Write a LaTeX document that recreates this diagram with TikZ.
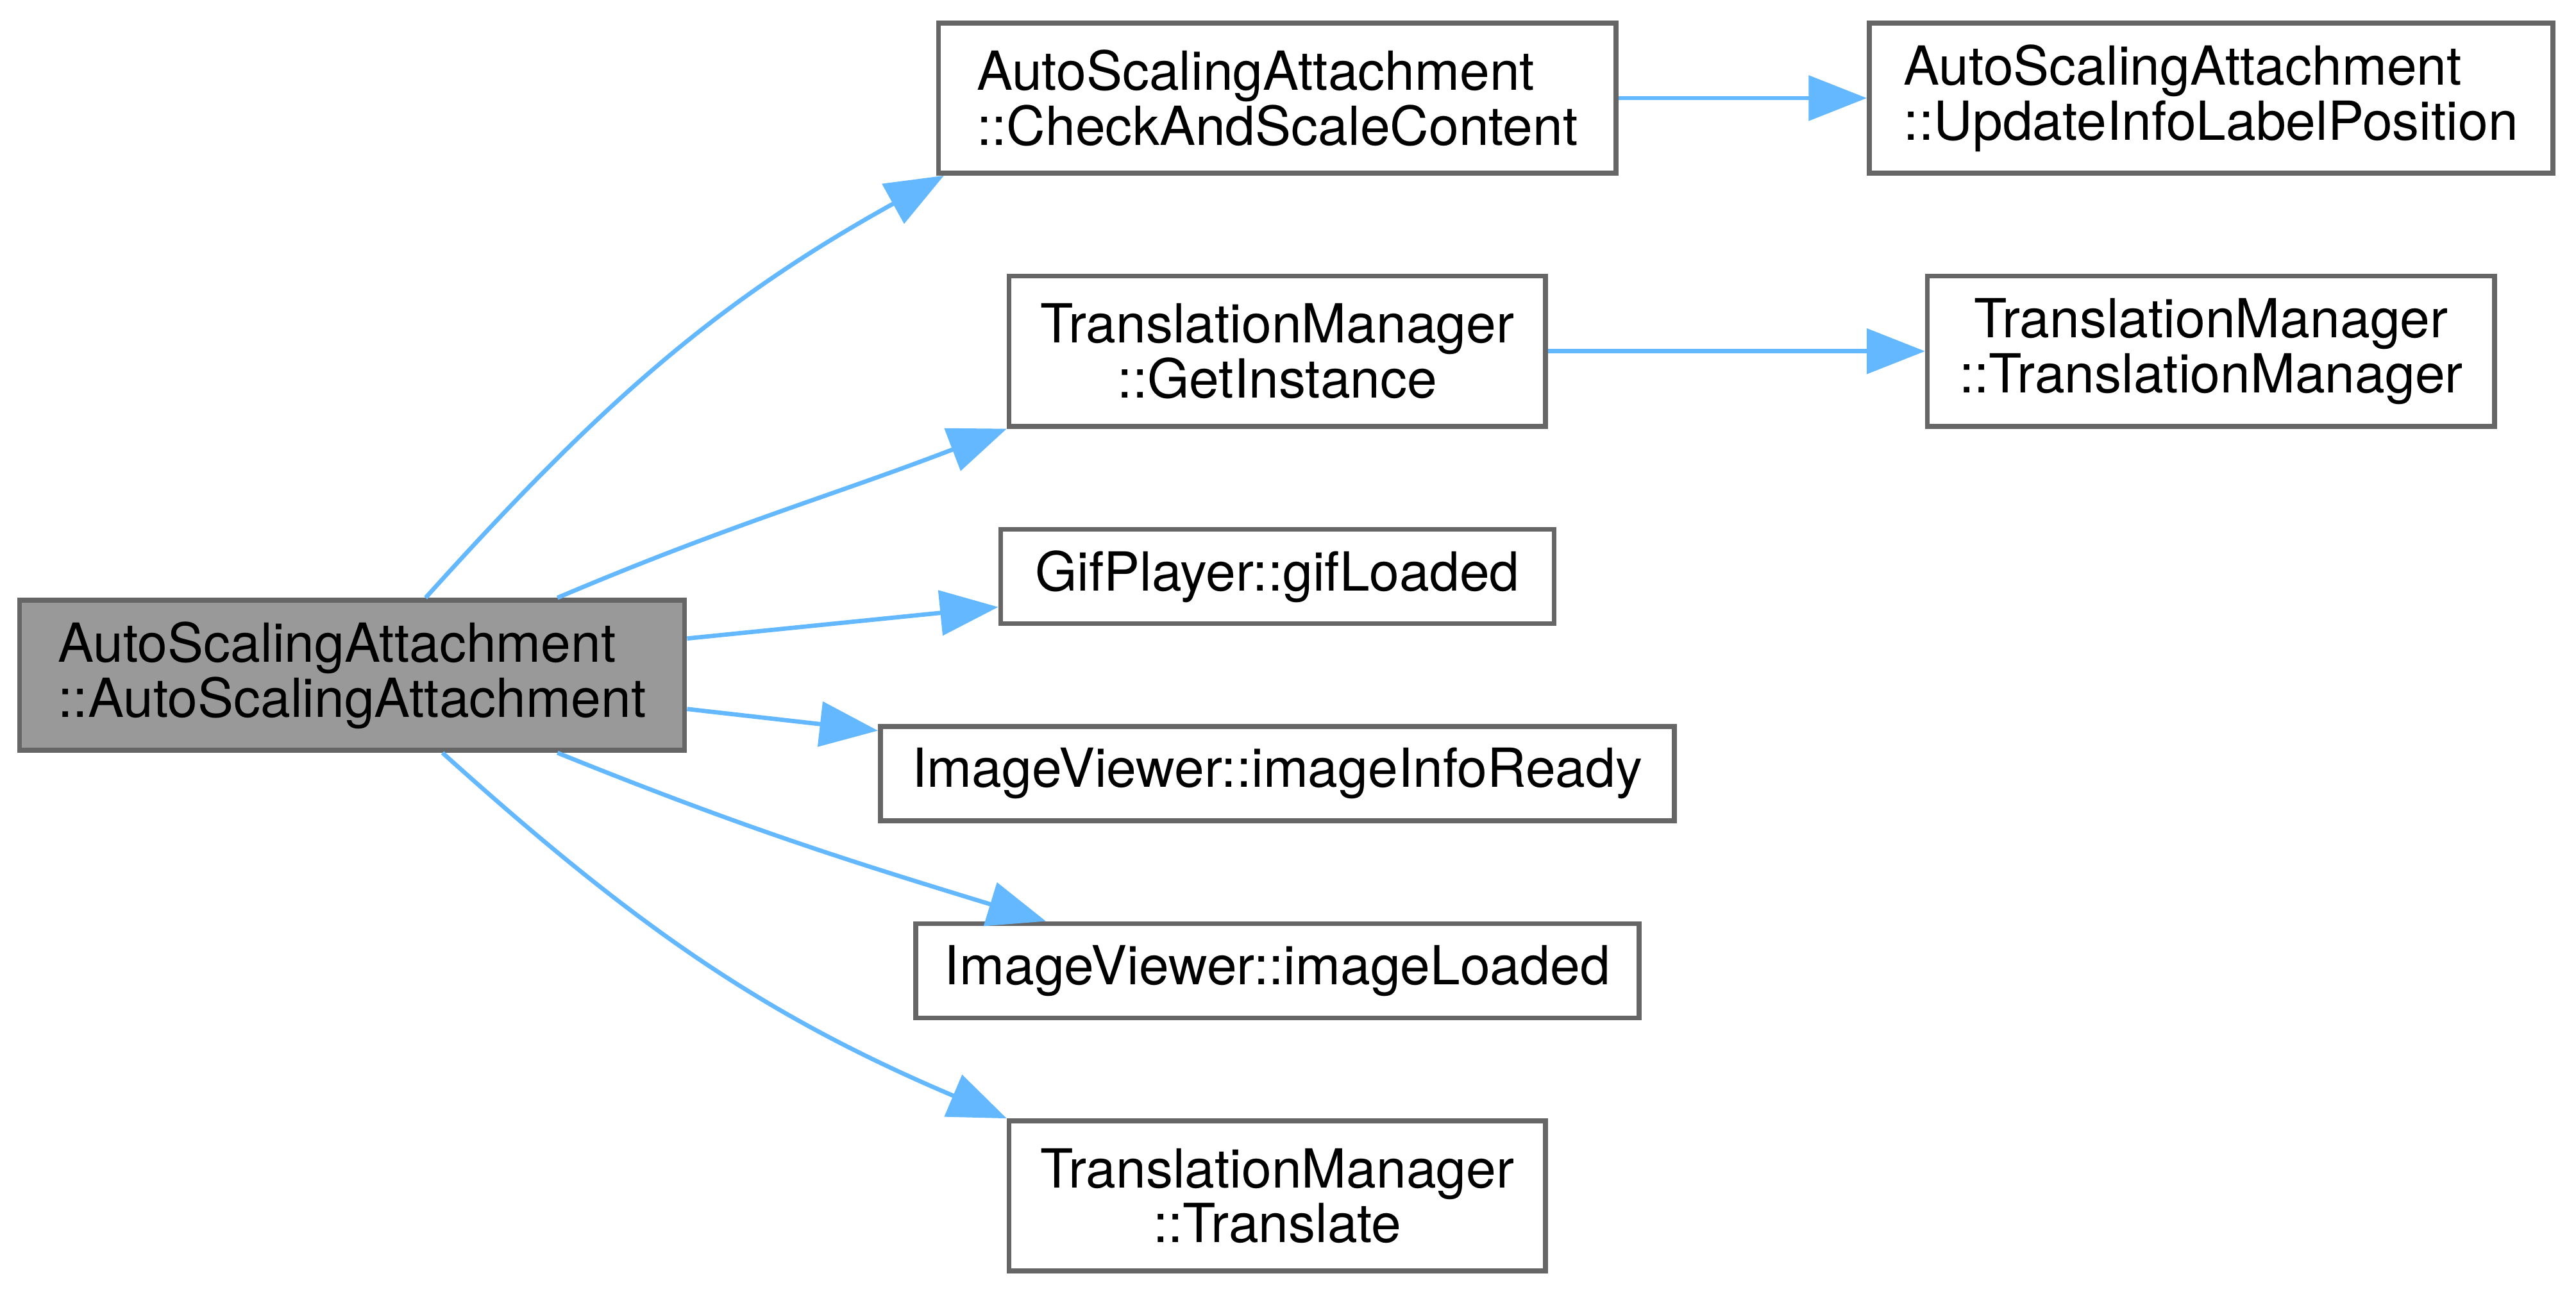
\documentclass[tikz,border=0pt]{standalone}
\usepackage{fontspec}
\setmainfont{TeX Gyre Heros}
\definecolor{edgeblue}{RGB}{99, 184, 255}
\definecolor{boxgrey}{RGB}{102, 102, 102}
\definecolor{curgrey}{RGB}{153, 153, 153}
\usetikzlibrary{arrows.meta, positioning}

\begin{document}
\begin{tikzpicture}[>={Triangle[length=10.8pt, width=8.3pt]}, node distance=0.64cm, font=\fontsize{10}{10.2}\selectfont,
    fn/.style={draw=boxgrey, line width=0.9pt, fill=white, rectangle, minimum height=0.98cm},
    fnone/.style={fn, minimum height=0.615cm},
    call/.style={->, draw=edgeblue, line width=0.8pt}]
        \useasboundingbox (-2.297,-4.033) rectangle (14.510,4.406);
        \node[fn, fill=curgrey, minimum width=4.34cm, align=left] (asa) at (0,0) {AutoScalingAttachment\\::AutoScalingAttachment};
        \node[fn, minimum width=4.42cm, align=left] (chk) at (6.037,3.766) {AutoScalingAttachment\\::CheckAndScaleContent};
        \node[fn, minimum width=3.50cm, align=center, below=of chk] (inst) {TranslationManager\\::GetInstance};
        \node[fnone, minimum width=3.61cm, below=of inst] (gif) {GifPlayer::gifLoaded};
        \node[fnone, minimum width=5.18cm, below=of gif] (info) {ImageViewer::imageInfoReady};
        \node[fnone, minimum width=4.72cm, below=of info] (loaded) {ImageViewer::imageLoaded};
        \node[fn, minimum width=3.50cm, align=center, below=of loaded] (trans) {TranslationManager\\::Translate};
        \node[fn, minimum width=4.46cm, align=left, right=1.62cm of chk] (upd) {AutoScalingAttachment\\::UpdateInfoLabelPosition};
        \node[fn, minimum width=3.70cm, align=center, right=2.46cm of inst] (mgr) {TranslationManager\\::TranslationManager};
        \draw[call] ([xshift=0.48cm]asa.north) to[out=48, in=-151] ([xshift=0.05cm]chk.south west);
        \draw[call] ([xshift=1.34cm]asa.north) to[out=23, in=-159] (inst.south west);
        \draw[call] ([yshift=0.24cm]asa.east) -- ([yshift=-0.2cm]gif.west);
        \draw[call] ([yshift=-0.22cm]asa.east) -- ([yshift=0.28cm]info.west);
        \draw[call] ([xshift=1.34cm]asa.south) to[out=-22, in=163] ([xshift=-1.51cm]loaded.north);
        \draw[call] ([xshift=0.59cm]asa.south) to[out=-42, in=157] (trans.north west);
        \draw[call] (chk) -- (upd);
        \draw[call] (inst) -- (mgr);
      \end{tikzpicture}
\end{document}
